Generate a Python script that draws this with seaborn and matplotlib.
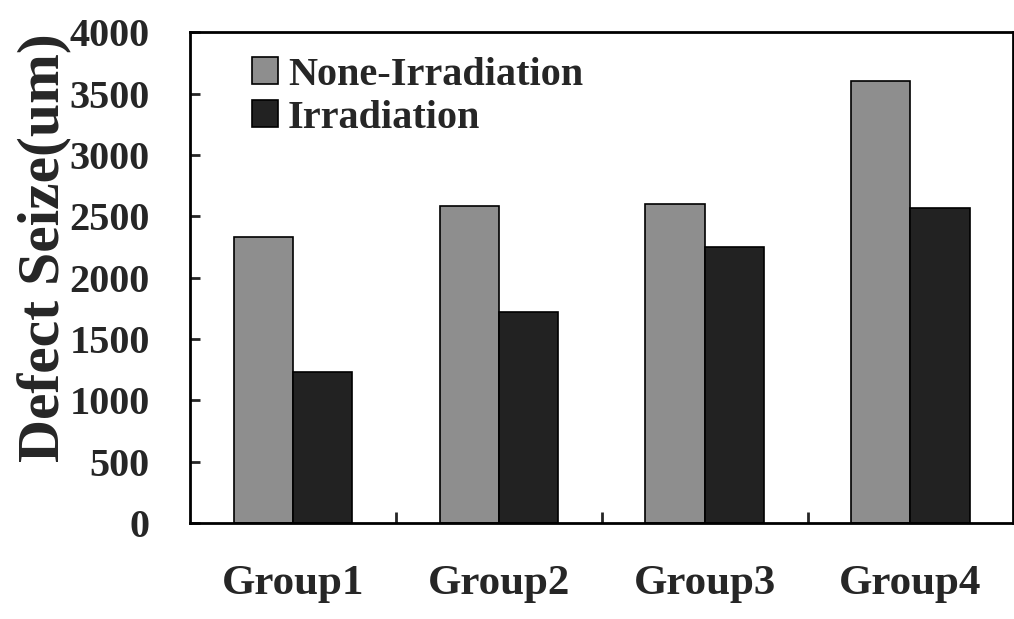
import pandas as pd
import matplotlib
matplotlib.use("Agg")
import matplotlib.pyplot as plt
import seaborn as sns

groups = ["Group1", "Group2", "Group3", "Group4"]
series = ["None-Irradiation", "Irradiation"]
none_irr = [2330, 2580, 2600, 3600]
irr = [1230, 1720, 2250, 2570]
y_ticks = [0, 500, 1000, 1500, 2000, 2500, 3000, 3500, 4000]

df = pd.DataFrame({
    "Group": groups * 2,
    "Condition": [series[0]] * 4 + [series[1]] * 4,
    "Size": none_irr + irr,
})

sns.set_style("ticks")
plt.rcParams["font.family"] = ["Liberation Serif", "DejaVu Serif"]
plt.rcParams["font.weight"] = "bold"

fig = plt.figure(figsize=(10.14, 6.19), dpi=100)
ax = fig.add_axes([0.1874, 0.155, 0.812, 0.793])

sns.barplot(data=df, x="Group", y="Size", hue="Condition",
            palette=["#8e8e8e", "#222222"], width=0.575,
            edgecolor="black", linewidth=1.2, saturation=1, ax=ax)

ax.set_xlim(-0.5, 3.5)
ax.set_ylim(0, 4000)
ax.set_yticks(y_ticks)
ax.set_xticks([0.5, 1.5, 2.5], minor=True)
ax.tick_params(axis="x", which="major", length=0, pad=30, labelsize=31)
ax.tick_params(axis="x", which="minor", direction="in", length=8, width=2)
ax.tick_params(axis="y", direction="in", length=7, width=2, pad=29, labelsize=29)
for sp in ax.spines.values():
    sp.set_linewidth(2)
    sp.set_color("black")

ax.set_xlabel("")
ax.set_ylabel("Defect Seize(um)", fontsize=43, fontweight="bold")
ax.yaxis.set_label_coords(-0.143, 0.562)

ax.legend(title=None, loc="upper left", bbox_to_anchor=(0.075, 0.95),
          frameon=False, fontsize=29, handlelength=0.65, handleheight=0.65,
          handletextpad=0.25, borderpad=0, borderaxespad=0, labelspacing=0.15)

fig.savefig("out.png", dpi=100)
